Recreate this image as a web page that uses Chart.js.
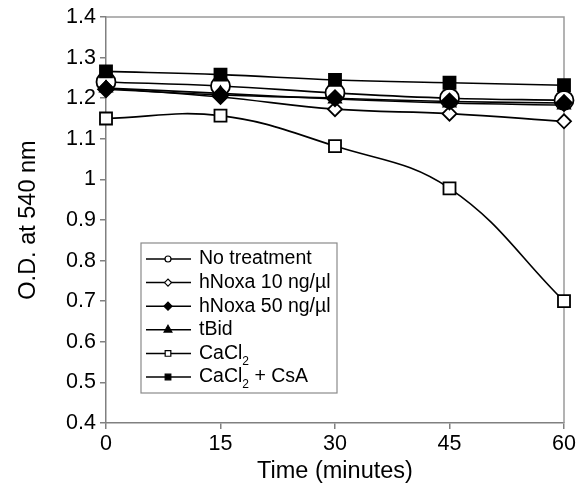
<!DOCTYPE html>
<html>
<head>
<meta charset="utf-8">
<script src="https://cdn.jsdelivr.net/npm/chart.js@4.4.0/dist/chart.umd.min.js"></script>
<style>
  html, body { margin: 0; padding: 0; background: #fff; }
  #wrap { width: 585px; height: 486px; }
</style>
</head>
<body>
<div id="wrap"><canvas id="grafico" width="585" height="486"></canvas></div>
<script>
// dados
const tempoMinutos = [0, 15, 30, 45, 60];
const semTratamento = [1.240, 1.230, 1.213, 1.200, 1.195];
const hNoxa10 = [1.225, 1.203, 1.173, 1.162, 1.143];
const hNoxa50 = [1.222, 1.208, 1.200, 1.192, 1.188];
const tBid = [1.225, 1.212, 1.198, 1.188, 1.183];
const caCl2 = [1.150, 1.157, 1.082, 0.978, 0.700];
const caCl2CsA = [1.266, 1.258, 1.245, 1.238, 1.232];

const rotulosSeries = ['No treatment', 'hNoxa 10 ng/\u00b5l', 'hNoxa 50 ng/\u00b5l', 'tBid', 'CaCl\u2082', 'CaCl\u2082 + CsA'];
const ticksX = [0, 15, 30, 45, 60];
const ticksY = [0.4, 0.5, 0.6, 0.7, 0.8, 0.9, 1, 1.1, 1.2, 1.3, 1.4];
const rotulosTicksY = ['0.4', '0.5', '0.6', '0.7', '0.8', '0.9', '1', '1.1', '1.2', '1.3', '1.4'];

const fonte = 'Arial, "Liberation Sans", Helvetica, sans-serif';
const corEixo = '#808080';

function serie(label, valores, estilo, raio, preenchido, ordem, raioLegenda) {
  return {
    label: label,
    data: tempoMinutos.map((t, i) => ({ x: t, y: valores[i] })),
    borderColor: '#000',
    borderWidth: 1.6,
    pointStyle: estilo,
    pointRadius: raio,
    pointHoverRadius: raio,
    pointBorderWidth: 1.8,
    pointBorderColor: '#000',
    pointBackgroundColor: preenchido ? '#000' : '#fff',
    tension: 0.4,
    fill: false,
    clip: false,
    order: ordem,
    raioLegenda: raioLegenda
  };
}

// caixa em volta da área do gráfico
const caixaPlugin = {
  id: 'caixa',
  beforeDatasetsDraw(chart) {
    const { ctx, chartArea: a } = chart;
    ctx.save();
    ctx.strokeStyle = '#9a9a9a';
    ctx.lineWidth = 1.5;
    ctx.beginPath();
    ctx.moveTo(a.left, a.top);
    ctx.lineTo(a.right, a.top);
    ctx.lineTo(a.right, a.bottom);
    ctx.stroke();
    ctx.restore();
  }
};

// legenda desenhada dentro da área, com subscrito no CaCl2
const legendaPlugin = {
  id: 'legendaInterna',
  afterDraw(chart) {
    const { ctx } = chart;
    const x0 = 141, y0 = 243, w = 196, h = 150;
    ctx.save();
    ctx.fillStyle = '#fff';
    ctx.fillRect(x0, y0, w, h);
    ctx.strokeStyle = '#8a8a8a';
    ctx.lineWidth = 1.2;
    ctx.strokeRect(x0, y0, w, h);
    chart.data.datasets.forEach((ds, i) => {
      const y = y0 + 16 + i * 23.6;
      ctx.strokeStyle = '#000';
      ctx.lineWidth = 1.5;
      ctx.beginPath();
      ctx.moveTo(x0 + 5, y);
      ctx.lineTo(x0 + 50, y);
      ctx.stroke();
      ctx.fillStyle = ds.pointBackgroundColor;
      ctx.strokeStyle = '#000';
      ctx.lineWidth = 1.2;
      Chart.helpers.drawPoint(ctx, { pointStyle: ds.pointStyle, radius: ds.raioLegenda, borderWidth: 1.2 }, x0 + 27, y);
      ctx.fillStyle = '#000';
      ctx.textBaseline = 'middle';
      let tx = x0 + 58;
      const partes = ds.label.split('\u2082');
      partes.forEach((p, k) => {
        ctx.font = '19.5px ' + fonte;
        ctx.fillText(p, tx, y);
        tx += ctx.measureText(p).width;
        if (k < partes.length - 1) {
          ctx.font = '12px ' + fonte;
          ctx.fillText('2', tx, y + 8);
          tx += ctx.measureText('2').width;
        }
      });
    });
    ctx.restore();
  }
};

const contexto = document.getElementById('grafico').getContext('2d');
new Chart(contexto, {
  type: 'line',
  data: {
    datasets: [
      serie(rotulosSeries[0], semTratamento, 'circle', 9.5, false, 6, 3),
      serie(rotulosSeries[1], hNoxa10, 'rectRot', 7, false, 5, 3.5),
      serie(rotulosSeries[2], hNoxa50, 'rectRot', 8, true, 3, 4),
      serie(rotulosSeries[3], tBid, 'triangle', 7, true, 4, 4.5),
      serie(rotulosSeries[4], caCl2, 'rect', 8.5, false, 2, 4),
      serie(rotulosSeries[5], caCl2CsA, 'rect', 8.5, true, 1, 4)
    ]
  },
  options: {
    responsive: false,
    animation: false,
    layout: { padding: { top: 17, right: 21, left: 0, bottom: 0 } },
    plugins: {
      legend: { display: false },
      tooltip: { enabled: false }
    },
    scales: {
      x: {
        type: 'linear',
        min: 0,
        max: 60,
        afterBuildTicks(scale) { scale.ticks = ticksX.map(v => ({ value: v })); },
        afterFit(scale) { scale.height = 486 - 423; },
        border: { display: true, color: corEixo, width: 1.5 },
        grid: { drawOnChartArea: false, drawTicks: true, tickLength: 6, color: corEixo, lineWidth: 1.5 },
        ticks: { color: '#000', padding: 2, font: { family: fonte, size: 21.5 } },
        title: { display: true, text: 'Time (minutes)', color: '#000', padding: { top: 0, bottom: 0 }, font: { family: fonte, size: 23.5 } }
      },
      y: {
        type: 'linear',
        min: 0.4,
        max: 1.4,
        afterBuildTicks(scale) { scale.ticks = ticksY.map(v => ({ value: v })); },
        afterFit(scale) { scale.width = 106; },
        border: { display: true, color: corEixo, width: 1.5 },
        grid: { drawOnChartArea: false, drawTicks: true, tickLength: 6, color: corEixo, lineWidth: 1.5 },
        ticks: {
          color: '#000',
          padding: 4,
          font: { family: fonte, size: 21.5 },
          callback: (v) => rotulosTicksY[ticksY.indexOf(v)] ?? ''
        },
        title: { display: true, text: 'O.D. at 540 nm', color: '#000', padding: { top: 14, bottom: 0 }, font: { family: fonte, size: 23.5 } }
      }
    }
  },
  plugins: [caixaPlugin, legendaPlugin]
});
</script>
</body>
</html>
